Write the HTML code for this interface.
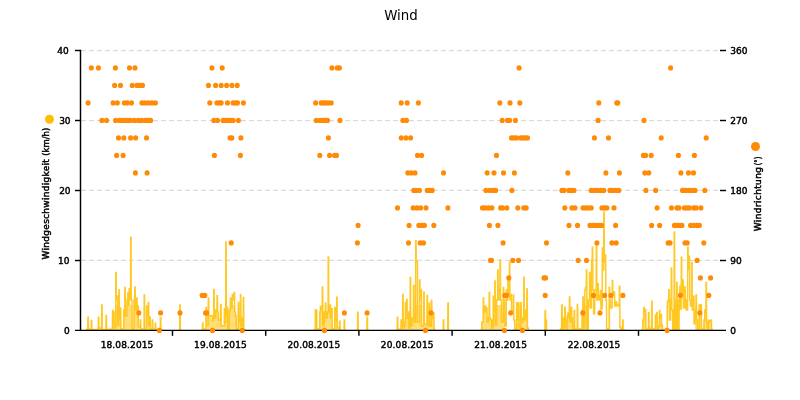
<!DOCTYPE html>
<html lang="de">
<head>
<meta charset="utf-8">
<title>Wind</title>
<style>
html,body{margin:0;padding:0;background:#fff;}
body{width:800px;height:400px;overflow:hidden;}
svg{display:block;}
text{font-family:"Liberation Sans","DejaVu Sans",sans-serif;fill:#000;}
.lbl{font-family:"DejaVu Sans","Liberation Sans",sans-serif;font-size:9px;font-weight:normal;stroke:#000;stroke-width:0.45px;}
.ttl{font-family:"DejaVu Sans","Liberation Sans",sans-serif;font-size:14px;}
</style>
</head>
<body>
<svg width="800" height="400" viewBox="0 0 800 400">
<rect x="0" y="0" width="800" height="400" fill="#ffffff"/>

<g stroke="#DBDBDB" stroke-width="1.25" stroke-dasharray="5,3" fill="none">
<path d="M81 50.5 H719"/>
<path d="M81 120.5 H719"/>
<path d="M81 190.4 H719"/>
<path d="M81 260.4 H719"/>
</g>
<g fill="none" stroke="#FFC20A" stroke-opacity="0.88" stroke-width="1.5" stroke-linejoin="miter" stroke-miterlimit="2" stroke-linecap="butt">
<clipPath id="fillclip">
<rect x="80.0" y="305" width="423.8" height="26"/>
<rect x="514.0" y="305" width="74.6" height="26"/>
<rect x="606.4" y="305" width="3.8" height="26"/>
<rect x="620.2" y="305" width="47.6" height="26"/>
<rect x="672.2" y="305" width="7.2" height="26"/>
<rect x="695.2" y="305" width="25.8" height="26"/>
</clipPath>
<g clip-path="url(#fillclip)" stroke="none" fill="#FFC20A" fill-opacity="0.55">
<polygon points="86.00,330.00 87.30,329.00 87.77,329.00 87.92,317.30 88.10,317.30 88.28,317.30 88.43,329.00 89.00,329.00 90.60,329.00 91.17,329.00 91.32,320.40 91.50,320.40 91.68,320.40 91.83,329.50 92.40,329.50 97.60,329.50 98.27,329.50 98.42,317.30 98.60,317.30 98.78,317.30 98.93,328.00 99.80,328.00 100.90,328.00 101.57,328.00 101.72,305.00 101.90,305.00 102.08,305.00 102.23,329.50 103.00,329.50 105.20,329.50 105.92,329.50 106.07,315.50 106.25,315.50 106.43,315.50 106.58,329.50 107.30,329.50 111.50,329.00 112.42,329.00 112.57,310.30 112.75,310.30 112.93,310.30 113.08,312.00 113.80,312.00 113.98,312.00 114.13,328.00 114.80,328.00 115.67,328.00 115.82,272.50 116.00,272.50 116.18,272.50 116.33,300.00 117.00,300.00 117.17,300.00 117.33,296.00 117.50,296.00 117.68,296.00 117.83,325.00 118.20,325.00 118.77,325.00 118.92,290.00 119.10,290.00 119.28,290.00 119.43,318.00 120.00,318.00 120.27,318.00 120.42,308.00 120.60,308.00 120.78,308.00 120.93,329.00 121.50,329.00 123.00,329.00 123.67,329.00 123.82,310.00 124.00,310.00 124.67,310.00 124.82,287.50 125.00,287.50 125.18,287.50 125.33,316.00 126.25,316.00 126.87,316.00 127.02,300.00 127.20,300.00 127.77,300.00 127.92,292.50 128.10,292.50 128.28,292.50 128.43,305.00 128.80,305.00 129.07,305.00 129.22,288.75 129.40,288.75 129.58,288.75 129.73,300.00 130.00,300.00 130.57,300.00 130.72,237.30 130.90,237.30 131.08,237.30 131.23,300.00 131.80,300.00 131.98,300.00 132.13,329.00 132.50,329.00 133.50,329.00 133.87,329.00 134.02,300.00 134.20,300.00 134.67,300.00 134.82,287.00 135.00,287.00 135.18,287.00 135.33,310.00 136.00,310.00 136.57,310.00 136.72,298.00 136.90,298.00 137.08,298.00 137.23,306.00 138.00,306.00 138.18,306.00 138.33,327.00 139.00,327.00 140.17,327.00 140.32,320.00 140.50,320.00 140.68,320.00 140.83,329.00 141.50,329.00 143.00,329.00 144.07,329.00 144.22,295.00 144.40,295.00 144.58,295.00 144.73,328.00 145.50,328.00 146.57,328.00 146.72,306.00 146.90,306.00 147.08,306.00 147.23,315.00 147.60,315.00 148.17,315.00 148.32,302.50 148.50,302.50 148.68,302.50 148.83,325.00 149.30,325.00 149.67,325.00 149.82,317.00 150.00,317.00 150.18,317.00 150.33,329.00 151.00,329.00 152.17,329.00 152.32,320.00 152.50,320.00 152.68,320.00 152.83,329.00 153.50,329.00 155.07,329.00 155.22,323.00 155.40,323.00 155.58,323.00 155.73,329.50 156.50,329.50 159.50,329.50 160.27,329.50 160.42,317.50 160.60,317.50 160.78,317.50 160.93,329.50 161.60,329.50 162.50,330.00"/>
<polygon points="178.80,330.00 179.67,330.00 179.82,305.00 180.00,305.00 180.18,305.00 180.33,330.00 181.20,330.00"/>
<polygon points="201.50,330.00 202.42,330.00 202.57,323.00 202.75,323.00 202.93,323.00 203.08,329.00 203.50,329.00 205.00,329.00 205.92,329.00 206.07,307.50 206.25,307.50 206.43,307.50 206.58,325.00 207.30,325.00 208.17,325.00 208.32,298.00 208.50,298.00 208.68,298.00 208.83,316.00 209.50,316.00 211.00,315.50 212.50,316.00 212.68,316.00 212.83,320.00 213.20,320.00 213.67,320.00 213.82,289.40 214.00,289.40 214.18,289.40 214.33,318.00 215.00,318.00 215.67,318.00 215.82,310.00 216.00,310.00 216.92,310.00 217.07,295.80 217.25,295.80 217.43,295.80 217.58,312.00 218.20,312.00 218.38,312.00 218.53,320.00 219.50,320.00 220.57,320.00 220.72,304.40 220.90,304.40 221.08,304.40 221.23,326.00 221.80,326.00 223.50,326.00 224.27,326.00 224.42,308.75 224.60,308.75 224.78,308.75 224.93,322.00 225.30,322.00 225.67,322.00 225.82,242.00 226.00,242.00 226.18,242.00 226.33,315.00 226.80,315.00 227.17,315.00 227.32,307.50 227.50,307.50 227.68,307.50 227.83,329.00 228.50,329.00 229.17,329.00 229.32,310.00 229.50,310.00 230.27,310.00 230.42,298.00 230.60,298.00 230.78,298.00 230.93,308.00 231.50,308.00 232.17,308.00 232.32,294.40 232.50,294.40 232.68,294.40 232.83,300.00 233.40,300.00 234.07,300.00 234.22,292.40 234.40,292.40 234.58,292.40 234.73,312.00 235.20,312.00 235.38,312.00 235.53,316.00 236.00,316.00 236.18,316.00 236.33,329.00 237.00,329.00 238.17,329.00 238.32,302.60 238.50,302.60 238.68,302.60 238.83,322.00 239.50,322.00 240.27,322.00 240.42,294.70 240.60,294.70 240.78,294.70 240.93,326.00 241.60,326.00 242.17,326.00 242.32,318.00 242.50,318.00 243.17,318.00 243.32,297.40 243.50,297.40 243.68,297.40 243.83,329.50 244.60,329.50 246.00,330.00"/>
<polygon points="314.00,330.00 315.00,329.00 315.18,329.00 315.32,310.00 315.50,310.00 316.50,310.00 316.68,310.00 316.83,329.00 317.30,329.00 319.00,329.00 319.67,329.00 319.82,312.00 320.00,312.00 320.27,312.00 320.42,306.25 320.60,306.25 320.78,306.25 320.93,309.00 321.50,309.00 322.17,309.00 322.32,286.90 322.50,286.90 322.68,286.90 322.83,325.00 323.40,325.00 324.17,325.00 324.32,312.00 324.50,312.00 325.27,312.00 325.42,303.00 325.60,303.00 325.78,303.00 325.93,318.00 326.50,318.00 327.17,318.00 327.32,312.00 327.50,312.00 328.07,312.00 328.22,256.90 328.40,256.90 328.58,256.90 328.73,312.00 329.30,312.00 329.92,312.00 330.07,305.00 330.25,305.00 330.43,305.00 330.58,318.00 331.00,318.00 331.57,318.00 331.72,308.75 331.90,308.75 332.08,308.75 332.23,329.00 332.80,329.00 334.00,329.00 334.67,329.00 334.82,307.50 335.00,307.50 335.18,307.50 335.33,320.00 335.90,320.00 336.57,320.00 336.72,297.25 336.90,297.25 337.08,297.25 337.23,328.00 337.80,328.00 338.80,328.00 339.42,328.00 339.57,321.25 339.75,321.25 339.93,321.25 340.08,329.50 340.70,329.50 341.50,330.00"/>
<polygon points="343.20,330.00 344.07,330.00 344.22,320.00 344.40,320.00 344.58,320.00 344.73,330.00 345.60,330.00"/>
<polygon points="356.70,330.00 357.57,330.00 357.72,312.25 357.90,312.25 358.08,312.25 358.23,330.00 359.10,330.00"/>
<polygon points="366.00,330.00 366.92,330.00 367.07,317.25 367.25,317.25 367.43,317.25 367.58,330.00 368.50,330.00"/>
<polygon points="396.30,330.00 397.17,330.00 397.32,317.30 397.50,317.30 397.68,317.30 397.83,329.50 398.60,329.50 400.30,329.00 400.92,329.00 401.07,320.00 401.25,320.00 401.43,320.00 401.58,326.00 402.00,326.00 402.57,326.00 402.72,294.40 402.90,294.40 403.08,294.40 403.23,328.00 403.80,328.00 404.47,328.00 404.62,322.00 404.80,322.00 405.27,322.00 405.42,302.50 405.60,302.50 405.78,302.50 405.93,310.00 406.20,310.00 406.57,310.00 406.72,299.40 406.90,299.40 407.08,299.40 407.23,318.00 407.80,318.00 408.27,318.00 408.42,312.00 408.60,312.00 408.78,312.00 408.93,328.00 409.50,328.00 410.07,328.00 410.22,277.50 410.40,277.50 410.58,277.50 410.73,326.00 411.30,326.00 411.97,326.00 412.12,318.00 412.30,318.00 413.42,318.00 413.57,285.60 413.75,285.60 413.93,285.60 414.08,322.00 414.60,322.00 415.57,322.00 415.72,240.40 415.90,240.40 416.08,240.40 416.23,261.60 417.25,261.60 417.43,261.60 417.58,322.00 418.20,322.00 419.42,322.00 419.57,280.00 419.75,280.00 419.93,280.00 420.08,300.00 420.50,300.00 420.92,300.00 421.07,289.40 421.25,289.40 421.43,289.40 421.58,326.00 422.60,326.00 423.67,326.00 423.82,291.90 424.00,291.90 424.18,291.90 424.33,324.00 425.50,324.00 426.92,324.00 427.07,295.60 427.25,295.60 427.43,295.60 427.58,326.00 428.20,326.00 429.07,326.00 429.22,303.00 429.40,303.00 429.58,303.00 429.73,326.00 430.40,326.00 431.27,326.00 431.42,300.40 431.60,300.40 431.78,300.40 431.93,318.00 432.60,318.00 433.42,318.00 433.57,313.00 433.75,313.00 433.93,313.00 434.08,329.50 434.80,329.50 435.50,330.00"/>
<polygon points="442.30,330.00 443.17,330.00 443.32,320.00 443.50,320.00 443.68,320.00 443.83,330.00 444.70,330.00"/>
<polygon points="446.90,330.00 447.77,330.00 447.92,302.90 448.10,302.90 448.28,302.90 448.43,330.00 449.30,330.00"/>
<polygon points="480.60,330.00 481.67,330.00 481.82,322.00 482.00,322.00 483.17,322.00 483.32,298.00 483.50,298.00 483.68,298.00 483.83,312.00 484.50,312.00 485.17,312.00 485.32,306.00 485.50,306.00 485.68,306.00 485.83,308.00 486.80,308.00 486.98,308.00 487.13,322.00 487.80,322.00 488.27,322.00 488.42,318.00 488.60,318.00 489.07,318.00 489.22,292.40 489.40,292.40 489.58,292.40 489.73,318.00 490.30,318.00 490.48,318.00 490.63,320.00 491.50,320.00 491.68,320.00 491.83,328.00 492.50,328.00 493.17,328.00 493.32,296.25 493.50,296.25 493.68,296.25 493.83,310.00 494.30,310.00 494.67,310.00 494.82,281.00 495.00,281.00 495.18,281.00 495.33,325.00 495.80,325.00 496.47,325.00 496.62,300.00 496.80,300.00 497.57,300.00 497.72,270.00 497.90,270.00 498.08,270.00 498.23,300.00 498.80,300.00 499.17,300.00 499.32,290.00 499.50,290.00 499.92,290.00 500.07,260.25 500.25,260.25 500.43,260.25 500.58,300.00 501.20,300.00 501.38,300.00 501.53,322.00 502.20,322.00 503.17,322.00 503.32,287.50 503.50,287.50 503.68,287.50 503.83,300.00 504.40,300.00 504.58,300.00 504.73,326.00 505.30,326.00 506.17,326.00 506.32,290.00 506.50,290.00 506.68,290.00 506.83,300.00 507.30,300.00 507.77,300.00 507.92,280.00 508.10,280.00 508.28,280.00 508.43,296.00 508.90,296.00 509.27,296.00 509.42,261.90 509.60,261.90 509.78,261.90 509.93,300.00 510.40,300.00 510.92,300.00 511.07,294.40 511.25,294.40 511.43,294.40 511.58,312.00 512.20,312.00 513.17,312.00 513.32,295.00 513.50,295.00 513.68,295.00 513.83,320.00 514.50,320.00 514.68,320.00 514.83,329.00 515.70,329.00 516.57,329.00 516.72,302.75 516.90,302.75 517.08,302.75 517.23,320.00 517.80,320.00 518.47,320.00 518.62,303.00 518.80,303.00 518.98,303.00 519.13,328.00 519.80,328.00 520.67,328.00 520.82,302.75 521.00,302.75 521.18,302.75 521.33,322.00 522.00,322.00 522.67,322.00 522.82,318.00 523.00,318.00 523.67,318.00 523.82,277.25 524.00,277.25 524.18,277.25 524.33,320.00 525.00,320.00 525.67,320.00 525.82,310.00 526.00,310.00 526.77,310.00 526.92,289.00 527.10,289.00 527.28,289.00 527.43,328.00 528.00,328.00 528.18,328.00 528.33,330.00 528.75,330.00"/>
<polygon points="543.80,330.00 544.92,330.00 545.07,310.60 545.25,310.60 545.43,310.60 545.58,320.00 546.25,320.00 546.43,320.00 546.58,330.00 547.30,330.00"/>
<polygon points="559.50,330.00 561.00,329.00 561.57,329.00 561.72,305.00 561.90,305.00 562.08,305.00 562.23,318.00 562.80,318.00 562.98,318.00 563.13,329.00 563.60,329.00 564.07,329.00 564.22,318.00 564.40,318.00 564.67,318.00 564.82,307.25 565.00,307.25 565.18,307.25 565.33,320.00 565.80,320.00 565.98,320.00 566.13,329.00 566.60,329.00 567.07,329.00 567.22,316.00 567.40,316.00 567.77,316.00 567.92,313.00 568.10,313.00 568.28,313.00 568.43,318.00 568.90,318.00 569.27,318.00 569.42,297.00 569.60,297.00 569.78,297.00 569.93,322.00 570.50,322.00 571.17,322.00 571.32,307.50 571.50,307.50 571.68,307.50 571.83,318.00 572.30,318.00 572.48,318.00 572.63,329.00 573.00,329.00 574.07,329.00 574.22,310.60 574.40,310.60 574.58,310.60 574.73,329.00 575.30,329.00 576.60,329.00 577.17,329.00 577.32,304.40 577.50,304.40 577.68,304.40 577.83,329.00 578.40,329.00 581.50,329.00 581.97,329.00 582.12,310.00 582.30,310.00 582.77,310.00 582.92,297.00 583.10,297.00 583.28,297.00 583.43,328.00 584.00,328.00 584.67,328.00 584.82,290.00 585.00,290.00 585.27,290.00 585.42,287.50 585.60,287.50 586.27,287.50 586.42,270.00 586.60,270.00 586.78,270.00 586.93,329.00 587.50,329.00 588.17,329.00 588.32,300.00 588.50,300.00 589.42,300.00 589.57,272.50 589.75,272.50 589.93,272.50 590.08,308.00 590.80,308.00 591.37,308.00 591.52,260.00 591.70,260.00 592.17,260.00 592.32,247.25 592.50,247.25 592.68,247.25 592.83,290.00 593.30,290.00 593.48,290.00 593.63,313.75 593.90,313.75 594.67,313.75 594.82,290.00 595.00,290.00 596.17,290.00 596.32,245.60 596.50,245.60 596.68,245.60 596.83,300.00 597.40,300.00 597.77,300.00 597.92,283.75 598.10,283.75 598.28,283.75 598.43,296.00 599.00,296.00 599.18,296.00 599.33,300.00 599.80,300.00 600.27,300.00 600.42,290.60 600.60,290.60 600.78,290.60 600.93,309.00 601.30,309.00 602.17,309.00 602.32,248.00 602.50,248.00 602.68,248.00 602.83,270.00 603.30,270.00 603.67,270.00 603.82,212.00 604.00,212.00 604.18,212.00 604.33,262.00 604.80,262.00 605.17,262.00 605.32,255.00 605.50,255.00 605.68,255.00 605.83,300.00 606.30,300.00 606.48,300.00 606.63,329.00 607.00,329.00 608.50,329.00 609.07,329.00 609.22,287.25 609.40,287.25 609.58,287.25 609.73,300.00 610.30,300.00 610.48,300.00 610.63,308.00 611.30,308.00 612.17,308.00 612.32,280.40 612.50,280.40 612.68,280.40 612.83,295.00 613.40,295.00 614.07,295.00 614.22,292.00 614.40,292.00 614.58,292.00 614.73,306.00 615.30,306.00 616.07,306.00 616.22,302.00 616.40,302.00 616.58,302.00 616.73,304.40 617.50,304.40 617.68,304.40 617.83,306.00 618.50,306.00 619.27,306.00 619.42,286.25 619.60,286.25 619.78,286.25 619.93,327.00 620.60,327.00 620.78,327.00 620.93,329.00 621.80,329.00 622.57,329.00 622.72,320.00 622.90,320.00 623.08,320.00 623.23,329.50 623.80,329.50 625.00,330.00"/>
<polygon points="641.80,330.00 642.67,330.00 642.82,320.00 643.00,320.00 643.67,320.00 643.82,307.50 644.00,307.50 644.18,307.50 644.33,311.00 644.80,311.00 645.27,311.00 645.42,309.40 645.60,309.40 645.78,309.40 645.93,329.00 646.40,329.00 647.80,329.00 648.42,329.00 648.57,312.50 648.75,312.50 648.93,312.50 649.08,329.00 649.60,329.00 650.80,328.00 651.57,328.00 651.72,301.25 651.90,301.25 652.08,301.25 652.23,329.00 652.90,329.00 654.60,329.00 655.27,329.00 655.42,315.00 655.60,315.00 655.78,315.00 655.93,318.00 656.20,318.00 656.57,318.00 656.72,312.50 656.90,312.50 657.08,312.50 657.23,329.00 657.80,329.00 658.47,329.00 658.62,326.00 658.80,326.00 659.27,326.00 659.42,310.60 659.60,310.60 659.78,310.60 659.93,318.00 660.40,318.00 660.92,318.00 661.07,314.40 661.25,314.40 661.43,314.40 661.58,325.00 662.20,325.00 662.38,325.00 662.53,329.50 663.00,329.50 666.00,329.50 667.17,329.50 667.32,302.00 667.50,302.00 667.97,302.00 668.12,300.00 668.30,300.00 668.67,300.00 668.82,289.75 669.00,289.75 669.18,289.75 669.33,320.00 670.00,320.00 670.47,320.00 670.62,300.00 670.80,300.00 671.17,300.00 671.32,268.00 671.50,268.00 671.68,268.00 671.83,310.00 672.40,310.00 672.58,310.00 672.73,329.00 673.30,329.00 674.07,329.00 674.22,232.00 674.40,232.00 674.58,232.00 674.73,300.00 675.30,300.00 675.48,300.00 675.63,329.00 676.00,329.00 676.57,329.00 676.72,282.50 676.90,282.50 677.08,282.50 677.23,300.00 677.80,300.00 677.98,300.00 678.13,329.00 678.60,329.00 678.97,329.00 679.12,300.00 679.30,300.00 679.67,300.00 679.82,286.25 680.00,286.25 680.18,286.25 680.33,309.00 680.80,309.00 681.17,309.00 681.32,257.25 681.50,257.25 681.68,257.25 681.83,295.00 682.30,295.00 682.77,295.00 682.92,280.00 683.10,280.00 683.28,280.00 683.43,308.00 683.90,308.00 684.67,308.00 684.82,287.00 685.00,287.00 685.18,287.00 685.33,300.00 685.90,300.00 686.08,300.00 686.23,310.00 686.90,310.00 687.57,310.00 687.72,247.25 687.90,247.25 688.08,247.25 688.23,270.00 688.60,270.00 689.07,270.00 689.22,256.25 689.40,256.25 689.58,256.25 689.73,300.00 690.20,300.00 690.38,300.00 690.53,306.00 691.00,306.00 691.57,306.00 691.72,262.50 691.90,262.50 692.08,262.50 692.23,310.00 692.60,310.00 693.42,310.00 693.57,296.25 693.75,296.25 693.93,296.25 694.08,323.75 694.50,323.75 695.07,323.75 695.22,310.00 695.40,310.00 695.92,310.00 696.07,295.00 696.25,295.00 696.43,295.00 696.58,320.00 697.20,320.00 697.38,320.00 697.53,329.00 698.00,329.00 699.07,329.00 699.22,305.00 699.40,305.00 699.58,305.00 699.73,312.00 700.30,312.00 700.92,312.00 701.07,304.60 701.25,304.60 701.43,304.60 701.58,329.00 702.00,329.00 703.50,329.00 703.87,329.00 704.02,320.00 704.20,320.00 704.67,320.00 704.82,310.00 705.00,310.00 705.18,310.00 705.33,312.00 705.60,312.00 705.92,312.00 706.07,282.50 706.25,282.50 706.43,282.50 706.58,322.00 707.00,322.00 707.18,322.00 707.33,329.00 707.80,329.00 708.47,329.00 708.62,320.00 708.80,320.00 709.80,321.00 711.25,320.00 711.43,320.00 711.58,329.50 712.30,329.50 713.00,330.00"/>
</g>
<polyline points="86.00,330.00 87.30,329.00 87.77,329.00 87.92,317.30 88.10,317.30 88.28,317.30 88.43,329.00 89.00,329.00 90.60,329.00 91.17,329.00 91.32,320.40 91.50,320.40 91.68,320.40 91.83,329.50 92.40,329.50 97.60,329.50 98.27,329.50 98.42,317.30 98.60,317.30 98.78,317.30 98.93,328.00 99.80,328.00 100.90,328.00 101.57,328.00 101.72,305.00 101.90,305.00 102.08,305.00 102.23,329.50 103.00,329.50 105.20,329.50 105.92,329.50 106.07,315.50 106.25,315.50 106.43,315.50 106.58,329.50 107.30,329.50 111.50,329.00 112.42,329.00 112.57,310.30 112.75,310.30 112.93,310.30 113.08,312.00 113.80,312.00 113.98,312.00 114.13,328.00 114.80,328.00 115.67,328.00 115.82,272.50 116.00,272.50 116.18,272.50 116.33,300.00 117.00,300.00 117.17,300.00 117.33,296.00 117.50,296.00 117.68,296.00 117.83,325.00 118.20,325.00 118.77,325.00 118.92,290.00 119.10,290.00 119.28,290.00 119.43,318.00 120.00,318.00 120.27,318.00 120.42,308.00 120.60,308.00 120.78,308.00 120.93,329.00 121.50,329.00 123.00,329.00 123.67,329.00 123.82,310.00 124.00,310.00 124.67,310.00 124.82,287.50 125.00,287.50 125.18,287.50 125.33,316.00 126.25,316.00 126.87,316.00 127.02,300.00 127.20,300.00 127.77,300.00 127.92,292.50 128.10,292.50 128.28,292.50 128.43,305.00 128.80,305.00 129.07,305.00 129.22,288.75 129.40,288.75 129.58,288.75 129.73,300.00 130.00,300.00 130.57,300.00 130.72,237.30 130.90,237.30 131.08,237.30 131.23,300.00 131.80,300.00 131.98,300.00 132.13,329.00 132.50,329.00 133.50,329.00 133.87,329.00 134.02,300.00 134.20,300.00 134.67,300.00 134.82,287.00 135.00,287.00 135.18,287.00 135.33,310.00 136.00,310.00 136.57,310.00 136.72,298.00 136.90,298.00 137.08,298.00 137.23,306.00 138.00,306.00 138.18,306.00 138.33,327.00 139.00,327.00 140.17,327.00 140.32,320.00 140.50,320.00 140.68,320.00 140.83,329.00 141.50,329.00 143.00,329.00 144.07,329.00 144.22,295.00 144.40,295.00 144.58,295.00 144.73,328.00 145.50,328.00 146.57,328.00 146.72,306.00 146.90,306.00 147.08,306.00 147.23,315.00 147.60,315.00 148.17,315.00 148.32,302.50 148.50,302.50 148.68,302.50 148.83,325.00 149.30,325.00 149.67,325.00 149.82,317.00 150.00,317.00 150.18,317.00 150.33,329.00 151.00,329.00 152.17,329.00 152.32,320.00 152.50,320.00 152.68,320.00 152.83,329.00 153.50,329.00 155.07,329.00 155.22,323.00 155.40,323.00 155.58,323.00 155.73,329.50 156.50,329.50 159.50,329.50 160.27,329.50 160.42,317.50 160.60,317.50 160.78,317.50 160.93,329.50 161.60,329.50 162.50,330.00"/>
<polyline points="178.80,330.00 179.67,330.00 179.82,305.00 180.00,305.00 180.18,305.00 180.33,330.00 181.20,330.00"/>
<polyline points="201.50,330.00 202.42,330.00 202.57,323.00 202.75,323.00 202.93,323.00 203.08,329.00 203.50,329.00 205.00,329.00 205.92,329.00 206.07,307.50 206.25,307.50 206.43,307.50 206.58,325.00 207.30,325.00 208.17,325.00 208.32,298.00 208.50,298.00 208.68,298.00 208.83,316.00 209.50,316.00 211.00,315.50 212.50,316.00 212.68,316.00 212.83,320.00 213.20,320.00 213.67,320.00 213.82,289.40 214.00,289.40 214.18,289.40 214.33,318.00 215.00,318.00 215.67,318.00 215.82,310.00 216.00,310.00 216.92,310.00 217.07,295.80 217.25,295.80 217.43,295.80 217.58,312.00 218.20,312.00 218.38,312.00 218.53,320.00 219.50,320.00 220.57,320.00 220.72,304.40 220.90,304.40 221.08,304.40 221.23,326.00 221.80,326.00 223.50,326.00 224.27,326.00 224.42,308.75 224.60,308.75 224.78,308.75 224.93,322.00 225.30,322.00 225.67,322.00 225.82,242.00 226.00,242.00 226.18,242.00 226.33,315.00 226.80,315.00 227.17,315.00 227.32,307.50 227.50,307.50 227.68,307.50 227.83,329.00 228.50,329.00 229.17,329.00 229.32,310.00 229.50,310.00 230.27,310.00 230.42,298.00 230.60,298.00 230.78,298.00 230.93,308.00 231.50,308.00 232.17,308.00 232.32,294.40 232.50,294.40 232.68,294.40 232.83,300.00 233.40,300.00 234.07,300.00 234.22,292.40 234.40,292.40 234.58,292.40 234.73,312.00 235.20,312.00 235.38,312.00 235.53,316.00 236.00,316.00 236.18,316.00 236.33,329.00 237.00,329.00 238.17,329.00 238.32,302.60 238.50,302.60 238.68,302.60 238.83,322.00 239.50,322.00 240.27,322.00 240.42,294.70 240.60,294.70 240.78,294.70 240.93,326.00 241.60,326.00 242.17,326.00 242.32,318.00 242.50,318.00 243.17,318.00 243.32,297.40 243.50,297.40 243.68,297.40 243.83,329.50 244.60,329.50 246.00,330.00"/>
<polyline points="314.00,330.00 315.00,329.00 315.18,329.00 315.32,310.00 315.50,310.00 316.50,310.00 316.68,310.00 316.83,329.00 317.30,329.00 319.00,329.00 319.67,329.00 319.82,312.00 320.00,312.00 320.27,312.00 320.42,306.25 320.60,306.25 320.78,306.25 320.93,309.00 321.50,309.00 322.17,309.00 322.32,286.90 322.50,286.90 322.68,286.90 322.83,325.00 323.40,325.00 324.17,325.00 324.32,312.00 324.50,312.00 325.27,312.00 325.42,303.00 325.60,303.00 325.78,303.00 325.93,318.00 326.50,318.00 327.17,318.00 327.32,312.00 327.50,312.00 328.07,312.00 328.22,256.90 328.40,256.90 328.58,256.90 328.73,312.00 329.30,312.00 329.92,312.00 330.07,305.00 330.25,305.00 330.43,305.00 330.58,318.00 331.00,318.00 331.57,318.00 331.72,308.75 331.90,308.75 332.08,308.75 332.23,329.00 332.80,329.00 334.00,329.00 334.67,329.00 334.82,307.50 335.00,307.50 335.18,307.50 335.33,320.00 335.90,320.00 336.57,320.00 336.72,297.25 336.90,297.25 337.08,297.25 337.23,328.00 337.80,328.00 338.80,328.00 339.42,328.00 339.57,321.25 339.75,321.25 339.93,321.25 340.08,329.50 340.70,329.50 341.50,330.00"/>
<polyline points="343.20,330.00 344.07,330.00 344.22,320.00 344.40,320.00 344.58,320.00 344.73,330.00 345.60,330.00"/>
<polyline points="356.70,330.00 357.57,330.00 357.72,312.25 357.90,312.25 358.08,312.25 358.23,330.00 359.10,330.00"/>
<polyline points="366.00,330.00 366.92,330.00 367.07,317.25 367.25,317.25 367.43,317.25 367.58,330.00 368.50,330.00"/>
<polyline points="396.30,330.00 397.17,330.00 397.32,317.30 397.50,317.30 397.68,317.30 397.83,329.50 398.60,329.50 400.30,329.00 400.92,329.00 401.07,320.00 401.25,320.00 401.43,320.00 401.58,326.00 402.00,326.00 402.57,326.00 402.72,294.40 402.90,294.40 403.08,294.40 403.23,328.00 403.80,328.00 404.47,328.00 404.62,322.00 404.80,322.00 405.27,322.00 405.42,302.50 405.60,302.50 405.78,302.50 405.93,310.00 406.20,310.00 406.57,310.00 406.72,299.40 406.90,299.40 407.08,299.40 407.23,318.00 407.80,318.00 408.27,318.00 408.42,312.00 408.60,312.00 408.78,312.00 408.93,328.00 409.50,328.00 410.07,328.00 410.22,277.50 410.40,277.50 410.58,277.50 410.73,326.00 411.30,326.00 411.97,326.00 412.12,318.00 412.30,318.00 413.42,318.00 413.57,285.60 413.75,285.60 413.93,285.60 414.08,322.00 414.60,322.00 415.57,322.00 415.72,240.40 415.90,240.40 416.08,240.40 416.23,261.60 417.25,261.60 417.43,261.60 417.58,322.00 418.20,322.00 419.42,322.00 419.57,280.00 419.75,280.00 419.93,280.00 420.08,300.00 420.50,300.00 420.92,300.00 421.07,289.40 421.25,289.40 421.43,289.40 421.58,326.00 422.60,326.00 423.67,326.00 423.82,291.90 424.00,291.90 424.18,291.90 424.33,324.00 425.50,324.00 426.92,324.00 427.07,295.60 427.25,295.60 427.43,295.60 427.58,326.00 428.20,326.00 429.07,326.00 429.22,303.00 429.40,303.00 429.58,303.00 429.73,326.00 430.40,326.00 431.27,326.00 431.42,300.40 431.60,300.40 431.78,300.40 431.93,318.00 432.60,318.00 433.42,318.00 433.57,313.00 433.75,313.00 433.93,313.00 434.08,329.50 434.80,329.50 435.50,330.00"/>
<polyline points="442.30,330.00 443.17,330.00 443.32,320.00 443.50,320.00 443.68,320.00 443.83,330.00 444.70,330.00"/>
<polyline points="446.90,330.00 447.77,330.00 447.92,302.90 448.10,302.90 448.28,302.90 448.43,330.00 449.30,330.00"/>
<polyline points="480.60,330.00 481.67,330.00 481.82,322.00 482.00,322.00 483.17,322.00 483.32,298.00 483.50,298.00 483.68,298.00 483.83,312.00 484.50,312.00 485.17,312.00 485.32,306.00 485.50,306.00 485.68,306.00 485.83,308.00 486.80,308.00 486.98,308.00 487.13,322.00 487.80,322.00 488.27,322.00 488.42,318.00 488.60,318.00 489.07,318.00 489.22,292.40 489.40,292.40 489.58,292.40 489.73,318.00 490.30,318.00 490.48,318.00 490.63,320.00 491.50,320.00 491.68,320.00 491.83,328.00 492.50,328.00 493.17,328.00 493.32,296.25 493.50,296.25 493.68,296.25 493.83,310.00 494.30,310.00 494.67,310.00 494.82,281.00 495.00,281.00 495.18,281.00 495.33,325.00 495.80,325.00 496.47,325.00 496.62,300.00 496.80,300.00 497.57,300.00 497.72,270.00 497.90,270.00 498.08,270.00 498.23,300.00 498.80,300.00 499.17,300.00 499.32,290.00 499.50,290.00 499.92,290.00 500.07,260.25 500.25,260.25 500.43,260.25 500.58,300.00 501.20,300.00 501.38,300.00 501.53,322.00 502.20,322.00 503.17,322.00 503.32,287.50 503.50,287.50 503.68,287.50 503.83,300.00 504.40,300.00 504.58,300.00 504.73,326.00 505.30,326.00 506.17,326.00 506.32,290.00 506.50,290.00 506.68,290.00 506.83,300.00 507.30,300.00 507.77,300.00 507.92,280.00 508.10,280.00 508.28,280.00 508.43,296.00 508.90,296.00 509.27,296.00 509.42,261.90 509.60,261.90 509.78,261.90 509.93,300.00 510.40,300.00 510.92,300.00 511.07,294.40 511.25,294.40 511.43,294.40 511.58,312.00 512.20,312.00 513.17,312.00 513.32,295.00 513.50,295.00 513.68,295.00 513.83,320.00 514.50,320.00 514.68,320.00 514.83,329.00 515.70,329.00 516.57,329.00 516.72,302.75 516.90,302.75 517.08,302.75 517.23,320.00 517.80,320.00 518.47,320.00 518.62,303.00 518.80,303.00 518.98,303.00 519.13,328.00 519.80,328.00 520.67,328.00 520.82,302.75 521.00,302.75 521.18,302.75 521.33,322.00 522.00,322.00 522.67,322.00 522.82,318.00 523.00,318.00 523.67,318.00 523.82,277.25 524.00,277.25 524.18,277.25 524.33,320.00 525.00,320.00 525.67,320.00 525.82,310.00 526.00,310.00 526.77,310.00 526.92,289.00 527.10,289.00 527.28,289.00 527.43,328.00 528.00,328.00 528.18,328.00 528.33,330.00 528.75,330.00"/>
<polyline points="543.80,330.00 544.92,330.00 545.07,310.60 545.25,310.60 545.43,310.60 545.58,320.00 546.25,320.00 546.43,320.00 546.58,330.00 547.30,330.00"/>
<polyline points="559.50,330.00 561.00,329.00 561.57,329.00 561.72,305.00 561.90,305.00 562.08,305.00 562.23,318.00 562.80,318.00 562.98,318.00 563.13,329.00 563.60,329.00 564.07,329.00 564.22,318.00 564.40,318.00 564.67,318.00 564.82,307.25 565.00,307.25 565.18,307.25 565.33,320.00 565.80,320.00 565.98,320.00 566.13,329.00 566.60,329.00 567.07,329.00 567.22,316.00 567.40,316.00 567.77,316.00 567.92,313.00 568.10,313.00 568.28,313.00 568.43,318.00 568.90,318.00 569.27,318.00 569.42,297.00 569.60,297.00 569.78,297.00 569.93,322.00 570.50,322.00 571.17,322.00 571.32,307.50 571.50,307.50 571.68,307.50 571.83,318.00 572.30,318.00 572.48,318.00 572.63,329.00 573.00,329.00 574.07,329.00 574.22,310.60 574.40,310.60 574.58,310.60 574.73,329.00 575.30,329.00 576.60,329.00 577.17,329.00 577.32,304.40 577.50,304.40 577.68,304.40 577.83,329.00 578.40,329.00 581.50,329.00 581.97,329.00 582.12,310.00 582.30,310.00 582.77,310.00 582.92,297.00 583.10,297.00 583.28,297.00 583.43,328.00 584.00,328.00 584.67,328.00 584.82,290.00 585.00,290.00 585.27,290.00 585.42,287.50 585.60,287.50 586.27,287.50 586.42,270.00 586.60,270.00 586.78,270.00 586.93,329.00 587.50,329.00 588.17,329.00 588.32,300.00 588.50,300.00 589.42,300.00 589.57,272.50 589.75,272.50 589.93,272.50 590.08,308.00 590.80,308.00 591.37,308.00 591.52,260.00 591.70,260.00 592.17,260.00 592.32,247.25 592.50,247.25 592.68,247.25 592.83,290.00 593.30,290.00 593.48,290.00 593.63,313.75 593.90,313.75 594.67,313.75 594.82,290.00 595.00,290.00 596.17,290.00 596.32,245.60 596.50,245.60 596.68,245.60 596.83,300.00 597.40,300.00 597.77,300.00 597.92,283.75 598.10,283.75 598.28,283.75 598.43,296.00 599.00,296.00 599.18,296.00 599.33,300.00 599.80,300.00 600.27,300.00 600.42,290.60 600.60,290.60 600.78,290.60 600.93,309.00 601.30,309.00 602.17,309.00 602.32,248.00 602.50,248.00 602.68,248.00 602.83,270.00 603.30,270.00 603.67,270.00 603.82,212.00 604.00,212.00 604.18,212.00 604.33,262.00 604.80,262.00 605.17,262.00 605.32,255.00 605.50,255.00 605.68,255.00 605.83,300.00 606.30,300.00 606.48,300.00 606.63,329.00 607.00,329.00 608.50,329.00 609.07,329.00 609.22,287.25 609.40,287.25 609.58,287.25 609.73,300.00 610.30,300.00 610.48,300.00 610.63,308.00 611.30,308.00 612.17,308.00 612.32,280.40 612.50,280.40 612.68,280.40 612.83,295.00 613.40,295.00 614.07,295.00 614.22,292.00 614.40,292.00 614.58,292.00 614.73,306.00 615.30,306.00 616.07,306.00 616.22,302.00 616.40,302.00 616.58,302.00 616.73,304.40 617.50,304.40 617.68,304.40 617.83,306.00 618.50,306.00 619.27,306.00 619.42,286.25 619.60,286.25 619.78,286.25 619.93,327.00 620.60,327.00 620.78,327.00 620.93,329.00 621.80,329.00 622.57,329.00 622.72,320.00 622.90,320.00 623.08,320.00 623.23,329.50 623.80,329.50 625.00,330.00"/>
<polyline points="641.80,330.00 642.67,330.00 642.82,320.00 643.00,320.00 643.67,320.00 643.82,307.50 644.00,307.50 644.18,307.50 644.33,311.00 644.80,311.00 645.27,311.00 645.42,309.40 645.60,309.40 645.78,309.40 645.93,329.00 646.40,329.00 647.80,329.00 648.42,329.00 648.57,312.50 648.75,312.50 648.93,312.50 649.08,329.00 649.60,329.00 650.80,328.00 651.57,328.00 651.72,301.25 651.90,301.25 652.08,301.25 652.23,329.00 652.90,329.00 654.60,329.00 655.27,329.00 655.42,315.00 655.60,315.00 655.78,315.00 655.93,318.00 656.20,318.00 656.57,318.00 656.72,312.50 656.90,312.50 657.08,312.50 657.23,329.00 657.80,329.00 658.47,329.00 658.62,326.00 658.80,326.00 659.27,326.00 659.42,310.60 659.60,310.60 659.78,310.60 659.93,318.00 660.40,318.00 660.92,318.00 661.07,314.40 661.25,314.40 661.43,314.40 661.58,325.00 662.20,325.00 662.38,325.00 662.53,329.50 663.00,329.50 666.00,329.50 667.17,329.50 667.32,302.00 667.50,302.00 667.97,302.00 668.12,300.00 668.30,300.00 668.67,300.00 668.82,289.75 669.00,289.75 669.18,289.75 669.33,320.00 670.00,320.00 670.47,320.00 670.62,300.00 670.80,300.00 671.17,300.00 671.32,268.00 671.50,268.00 671.68,268.00 671.83,310.00 672.40,310.00 672.58,310.00 672.73,329.00 673.30,329.00 674.07,329.00 674.22,232.00 674.40,232.00 674.58,232.00 674.73,300.00 675.30,300.00 675.48,300.00 675.63,329.00 676.00,329.00 676.57,329.00 676.72,282.50 676.90,282.50 677.08,282.50 677.23,300.00 677.80,300.00 677.98,300.00 678.13,329.00 678.60,329.00 678.97,329.00 679.12,300.00 679.30,300.00 679.67,300.00 679.82,286.25 680.00,286.25 680.18,286.25 680.33,309.00 680.80,309.00 681.17,309.00 681.32,257.25 681.50,257.25 681.68,257.25 681.83,295.00 682.30,295.00 682.77,295.00 682.92,280.00 683.10,280.00 683.28,280.00 683.43,308.00 683.90,308.00 684.67,308.00 684.82,287.00 685.00,287.00 685.18,287.00 685.33,300.00 685.90,300.00 686.08,300.00 686.23,310.00 686.90,310.00 687.57,310.00 687.72,247.25 687.90,247.25 688.08,247.25 688.23,270.00 688.60,270.00 689.07,270.00 689.22,256.25 689.40,256.25 689.58,256.25 689.73,300.00 690.20,300.00 690.38,300.00 690.53,306.00 691.00,306.00 691.57,306.00 691.72,262.50 691.90,262.50 692.08,262.50 692.23,310.00 692.60,310.00 693.42,310.00 693.57,296.25 693.75,296.25 693.93,296.25 694.08,323.75 694.50,323.75 695.07,323.75 695.22,310.00 695.40,310.00 695.92,310.00 696.07,295.00 696.25,295.00 696.43,295.00 696.58,320.00 697.20,320.00 697.38,320.00 697.53,329.00 698.00,329.00 699.07,329.00 699.22,305.00 699.40,305.00 699.58,305.00 699.73,312.00 700.30,312.00 700.92,312.00 701.07,304.60 701.25,304.60 701.43,304.60 701.58,329.00 702.00,329.00 703.50,329.00 703.87,329.00 704.02,320.00 704.20,320.00 704.67,320.00 704.82,310.00 705.00,310.00 705.18,310.00 705.33,312.00 705.60,312.00 705.92,312.00 706.07,282.50 706.25,282.50 706.43,282.50 706.58,322.00 707.00,322.00 707.18,322.00 707.33,329.00 707.80,329.00 708.47,329.00 708.62,320.00 708.80,320.00 709.80,321.00 711.25,320.00 711.43,320.00 711.58,329.50 712.30,329.50 713.00,330.00"/>
</g>
<g stroke="#000" stroke-width="1.45" fill="none">
<path d="M80.5 49.8 V331"/>
<path d="M75 330.3 H726" stroke-width="1.2"/>
<path d="M75 50.5 H80.5"/>
<path d="M720 50.5 H726"/>
<path d="M75 120.5 H80.5"/>
<path d="M720 120.5 H726"/>
<path d="M75 190.5 H80.5"/>
<path d="M720 190.5 H726"/>
<path d="M75 260.5 H80.5"/>
<path d="M720 260.5 H726"/>
<path d="M172.5 330 V335.8"/>
<path d="M265.7 330 V335.8"/>
<path d="M358.9 330 V335.8"/>
<path d="M452.1 330 V335.8"/>
<path d="M545.3 330 V335.8"/>
<path d="M638.5 330 V335.8"/>
</g>
<g fill="#FF8A06">
<circle cx="91.3" cy="67.9" r="2.55"/>
<circle cx="98.4" cy="67.9" r="2.55"/>
<circle cx="115.4" cy="67.9" r="2.55"/>
<circle cx="129.5" cy="67.9" r="2.55"/>
<circle cx="135.0" cy="67.9" r="2.55"/>
<circle cx="211.9" cy="67.9" r="2.55"/>
<circle cx="222.2" cy="67.9" r="2.55"/>
<circle cx="331.9" cy="67.9" r="2.55"/>
<circle cx="337.2" cy="67.9" r="2.55"/>
<circle cx="339.4" cy="67.9" r="2.55"/>
<circle cx="519.1" cy="67.9" r="2.55"/>
<circle cx="670.6" cy="67.9" r="2.55"/>
<circle cx="114.6" cy="85.4" r="2.55"/>
<circle cx="120.5" cy="85.4" r="2.55"/>
<circle cx="132.3" cy="85.4" r="2.55"/>
<circle cx="137.0" cy="85.4" r="2.55"/>
<circle cx="139.5" cy="85.4" r="2.55"/>
<circle cx="142.5" cy="85.4" r="2.55"/>
<circle cx="208.5" cy="85.4" r="2.55"/>
<circle cx="215.6" cy="85.4" r="2.55"/>
<circle cx="221.2" cy="85.4" r="2.55"/>
<circle cx="226.6" cy="85.4" r="2.55"/>
<circle cx="231.9" cy="85.4" r="2.55"/>
<circle cx="237.2" cy="85.4" r="2.55"/>
<circle cx="88.1" cy="102.9" r="2.55"/>
<circle cx="113.1" cy="102.9" r="2.55"/>
<circle cx="117.3" cy="102.9" r="2.55"/>
<circle cx="124.4" cy="102.9" r="2.55"/>
<circle cx="127.3" cy="102.9" r="2.55"/>
<circle cx="131.5" cy="102.9" r="2.55"/>
<circle cx="141.9" cy="102.9" r="2.55"/>
<circle cx="145.0" cy="102.9" r="2.55"/>
<circle cx="148.5" cy="102.9" r="2.55"/>
<circle cx="151.9" cy="102.9" r="2.55"/>
<circle cx="155.4" cy="102.9" r="2.55"/>
<circle cx="209.8" cy="102.9" r="2.55"/>
<circle cx="216.9" cy="102.9" r="2.55"/>
<circle cx="219.4" cy="102.9" r="2.55"/>
<circle cx="221.2" cy="102.9" r="2.55"/>
<circle cx="227.5" cy="102.9" r="2.55"/>
<circle cx="233.1" cy="102.9" r="2.55"/>
<circle cx="235.6" cy="102.9" r="2.55"/>
<circle cx="237.5" cy="102.9" r="2.55"/>
<circle cx="243.4" cy="102.9" r="2.55"/>
<circle cx="315.6" cy="102.9" r="2.55"/>
<circle cx="321.2" cy="102.9" r="2.55"/>
<circle cx="323.5" cy="102.9" r="2.55"/>
<circle cx="325.6" cy="102.9" r="2.55"/>
<circle cx="328.1" cy="102.9" r="2.55"/>
<circle cx="331.2" cy="102.9" r="2.55"/>
<circle cx="401.2" cy="102.9" r="2.55"/>
<circle cx="407.2" cy="102.9" r="2.55"/>
<circle cx="418.4" cy="102.9" r="2.55"/>
<circle cx="499.8" cy="102.9" r="2.55"/>
<circle cx="510.0" cy="102.9" r="2.55"/>
<circle cx="519.8" cy="102.9" r="2.55"/>
<circle cx="598.8" cy="102.9" r="2.55"/>
<circle cx="616.8" cy="102.9" r="2.55"/>
<circle cx="617.8" cy="102.9" r="2.55"/>
<circle cx="101.9" cy="120.4" r="2.55"/>
<circle cx="106.5" cy="120.4" r="2.55"/>
<circle cx="115.6" cy="120.4" r="2.55"/>
<circle cx="119.4" cy="120.4" r="2.55"/>
<circle cx="122.5" cy="120.4" r="2.55"/>
<circle cx="125.6" cy="120.4" r="2.55"/>
<circle cx="128.1" cy="120.4" r="2.55"/>
<circle cx="130.6" cy="120.4" r="2.55"/>
<circle cx="134.4" cy="120.4" r="2.55"/>
<circle cx="138.1" cy="120.4" r="2.55"/>
<circle cx="141.2" cy="120.4" r="2.55"/>
<circle cx="145.0" cy="120.4" r="2.55"/>
<circle cx="148.1" cy="120.4" r="2.55"/>
<circle cx="150.6" cy="120.4" r="2.55"/>
<circle cx="213.8" cy="120.4" r="2.55"/>
<circle cx="217.5" cy="120.4" r="2.55"/>
<circle cx="223.1" cy="120.4" r="2.55"/>
<circle cx="225.6" cy="120.4" r="2.55"/>
<circle cx="228.1" cy="120.4" r="2.55"/>
<circle cx="230.6" cy="120.4" r="2.55"/>
<circle cx="233.1" cy="120.4" r="2.55"/>
<circle cx="238.4" cy="120.4" r="2.55"/>
<circle cx="316.2" cy="120.4" r="2.55"/>
<circle cx="320.0" cy="120.4" r="2.55"/>
<circle cx="322.5" cy="120.4" r="2.55"/>
<circle cx="325.0" cy="120.4" r="2.55"/>
<circle cx="327.5" cy="120.4" r="2.55"/>
<circle cx="340.0" cy="120.4" r="2.55"/>
<circle cx="402.9" cy="120.4" r="2.55"/>
<circle cx="406.5" cy="120.4" r="2.55"/>
<circle cx="502.2" cy="120.4" r="2.55"/>
<circle cx="507.5" cy="120.4" r="2.55"/>
<circle cx="509.6" cy="120.4" r="2.55"/>
<circle cx="515.4" cy="120.4" r="2.55"/>
<circle cx="598.1" cy="120.4" r="2.55"/>
<circle cx="644.0" cy="120.4" r="2.55"/>
<circle cx="118.5" cy="137.9" r="2.55"/>
<circle cx="123.8" cy="137.9" r="2.55"/>
<circle cx="130.6" cy="137.9" r="2.55"/>
<circle cx="135.6" cy="137.9" r="2.55"/>
<circle cx="146.5" cy="137.9" r="2.55"/>
<circle cx="230.0" cy="137.9" r="2.55"/>
<circle cx="231.9" cy="137.9" r="2.55"/>
<circle cx="240.9" cy="137.9" r="2.55"/>
<circle cx="328.4" cy="137.9" r="2.55"/>
<circle cx="401.2" cy="137.9" r="2.55"/>
<circle cx="405.9" cy="137.9" r="2.55"/>
<circle cx="410.6" cy="137.9" r="2.55"/>
<circle cx="511.5" cy="137.9" r="2.55"/>
<circle cx="514.0" cy="137.9" r="2.55"/>
<circle cx="516.5" cy="137.9" r="2.55"/>
<circle cx="520.6" cy="137.9" r="2.55"/>
<circle cx="523.1" cy="137.9" r="2.55"/>
<circle cx="525.2" cy="137.9" r="2.55"/>
<circle cx="527.5" cy="137.9" r="2.55"/>
<circle cx="594.4" cy="137.9" r="2.55"/>
<circle cx="608.5" cy="137.9" r="2.55"/>
<circle cx="661.2" cy="137.9" r="2.55"/>
<circle cx="706.2" cy="137.9" r="2.55"/>
<circle cx="116.6" cy="155.4" r="2.55"/>
<circle cx="123.1" cy="155.4" r="2.55"/>
<circle cx="214.4" cy="155.4" r="2.55"/>
<circle cx="240.4" cy="155.4" r="2.55"/>
<circle cx="319.8" cy="155.4" r="2.55"/>
<circle cx="329.6" cy="155.4" r="2.55"/>
<circle cx="334.6" cy="155.4" r="2.55"/>
<circle cx="336.5" cy="155.4" r="2.55"/>
<circle cx="417.5" cy="155.4" r="2.55"/>
<circle cx="421.6" cy="155.4" r="2.55"/>
<circle cx="496.5" cy="155.4" r="2.55"/>
<circle cx="643.4" cy="155.4" r="2.55"/>
<circle cx="645.6" cy="155.4" r="2.55"/>
<circle cx="651.2" cy="155.4" r="2.55"/>
<circle cx="678.4" cy="155.4" r="2.55"/>
<circle cx="694.4" cy="155.4" r="2.55"/>
<circle cx="135.4" cy="172.9" r="2.55"/>
<circle cx="147.1" cy="172.9" r="2.55"/>
<circle cx="407.8" cy="172.9" r="2.55"/>
<circle cx="411.2" cy="172.9" r="2.55"/>
<circle cx="415.0" cy="172.9" r="2.55"/>
<circle cx="443.5" cy="172.9" r="2.55"/>
<circle cx="487.2" cy="172.9" r="2.55"/>
<circle cx="494.0" cy="172.9" r="2.55"/>
<circle cx="503.5" cy="172.9" r="2.55"/>
<circle cx="514.4" cy="172.9" r="2.55"/>
<circle cx="567.8" cy="172.9" r="2.55"/>
<circle cx="605.9" cy="172.9" r="2.55"/>
<circle cx="619.4" cy="172.9" r="2.55"/>
<circle cx="644.8" cy="172.9" r="2.55"/>
<circle cx="648.8" cy="172.9" r="2.55"/>
<circle cx="680.9" cy="172.9" r="2.55"/>
<circle cx="688.5" cy="172.9" r="2.55"/>
<circle cx="693.5" cy="172.9" r="2.55"/>
<circle cx="413.8" cy="190.4" r="2.55"/>
<circle cx="416.2" cy="190.4" r="2.55"/>
<circle cx="419.4" cy="190.4" r="2.55"/>
<circle cx="427.2" cy="190.4" r="2.55"/>
<circle cx="429.8" cy="190.4" r="2.55"/>
<circle cx="432.2" cy="190.4" r="2.55"/>
<circle cx="485.9" cy="190.4" r="2.55"/>
<circle cx="490.0" cy="190.4" r="2.55"/>
<circle cx="493.1" cy="190.4" r="2.55"/>
<circle cx="495.6" cy="190.4" r="2.55"/>
<circle cx="511.9" cy="190.4" r="2.55"/>
<circle cx="561.9" cy="190.4" r="2.55"/>
<circle cx="564.0" cy="190.4" r="2.55"/>
<circle cx="568.8" cy="190.4" r="2.55"/>
<circle cx="571.2" cy="190.4" r="2.55"/>
<circle cx="574.0" cy="190.4" r="2.55"/>
<circle cx="591.2" cy="190.4" r="2.55"/>
<circle cx="594.4" cy="190.4" r="2.55"/>
<circle cx="597.5" cy="190.4" r="2.55"/>
<circle cx="600.6" cy="190.4" r="2.55"/>
<circle cx="603.8" cy="190.4" r="2.55"/>
<circle cx="610.0" cy="190.4" r="2.55"/>
<circle cx="612.5" cy="190.4" r="2.55"/>
<circle cx="615.6" cy="190.4" r="2.55"/>
<circle cx="618.8" cy="190.4" r="2.55"/>
<circle cx="645.9" cy="190.4" r="2.55"/>
<circle cx="655.6" cy="190.4" r="2.55"/>
<circle cx="682.5" cy="190.4" r="2.55"/>
<circle cx="685.6" cy="190.4" r="2.55"/>
<circle cx="688.8" cy="190.4" r="2.55"/>
<circle cx="691.9" cy="190.4" r="2.55"/>
<circle cx="695.0" cy="190.4" r="2.55"/>
<circle cx="704.8" cy="190.4" r="2.55"/>
<circle cx="397.5" cy="207.9" r="2.55"/>
<circle cx="413.1" cy="207.9" r="2.55"/>
<circle cx="416.9" cy="207.9" r="2.55"/>
<circle cx="420.6" cy="207.9" r="2.55"/>
<circle cx="426.0" cy="207.9" r="2.55"/>
<circle cx="447.9" cy="207.9" r="2.55"/>
<circle cx="482.5" cy="207.9" r="2.55"/>
<circle cx="485.0" cy="207.9" r="2.55"/>
<circle cx="488.5" cy="207.9" r="2.55"/>
<circle cx="491.9" cy="207.9" r="2.55"/>
<circle cx="500.6" cy="207.9" r="2.55"/>
<circle cx="502.5" cy="207.9" r="2.55"/>
<circle cx="506.9" cy="207.9" r="2.55"/>
<circle cx="517.8" cy="207.9" r="2.55"/>
<circle cx="523.8" cy="207.9" r="2.55"/>
<circle cx="526.2" cy="207.9" r="2.55"/>
<circle cx="564.8" cy="207.9" r="2.55"/>
<circle cx="571.9" cy="207.9" r="2.55"/>
<circle cx="575.0" cy="207.9" r="2.55"/>
<circle cx="583.1" cy="207.9" r="2.55"/>
<circle cx="585.6" cy="207.9" r="2.55"/>
<circle cx="588.1" cy="207.9" r="2.55"/>
<circle cx="591.2" cy="207.9" r="2.55"/>
<circle cx="601.9" cy="207.9" r="2.55"/>
<circle cx="604.4" cy="207.9" r="2.55"/>
<circle cx="606.9" cy="207.9" r="2.55"/>
<circle cx="614.0" cy="207.9" r="2.55"/>
<circle cx="657.1" cy="207.9" r="2.55"/>
<circle cx="671.5" cy="207.9" r="2.55"/>
<circle cx="676.9" cy="207.9" r="2.55"/>
<circle cx="679.0" cy="207.9" r="2.55"/>
<circle cx="684.4" cy="207.9" r="2.55"/>
<circle cx="686.9" cy="207.9" r="2.55"/>
<circle cx="689.4" cy="207.9" r="2.55"/>
<circle cx="693.8" cy="207.9" r="2.55"/>
<circle cx="696.2" cy="207.9" r="2.55"/>
<circle cx="700.9" cy="207.9" r="2.55"/>
<circle cx="358.1" cy="225.4" r="2.55"/>
<circle cx="409.1" cy="225.4" r="2.55"/>
<circle cx="418.8" cy="225.4" r="2.55"/>
<circle cx="421.9" cy="225.4" r="2.55"/>
<circle cx="424.4" cy="225.4" r="2.55"/>
<circle cx="433.8" cy="225.4" r="2.55"/>
<circle cx="489.4" cy="225.4" r="2.55"/>
<circle cx="497.9" cy="225.4" r="2.55"/>
<circle cx="569.0" cy="225.4" r="2.55"/>
<circle cx="577.5" cy="225.4" r="2.55"/>
<circle cx="590.0" cy="225.4" r="2.55"/>
<circle cx="593.1" cy="225.4" r="2.55"/>
<circle cx="596.2" cy="225.4" r="2.55"/>
<circle cx="598.8" cy="225.4" r="2.55"/>
<circle cx="601.5" cy="225.4" r="2.55"/>
<circle cx="615.6" cy="225.4" r="2.55"/>
<circle cx="651.6" cy="225.4" r="2.55"/>
<circle cx="659.6" cy="225.4" r="2.55"/>
<circle cx="674.4" cy="225.4" r="2.55"/>
<circle cx="676.9" cy="225.4" r="2.55"/>
<circle cx="679.6" cy="225.4" r="2.55"/>
<circle cx="681.9" cy="225.4" r="2.55"/>
<circle cx="690.6" cy="225.4" r="2.55"/>
<circle cx="693.8" cy="225.4" r="2.55"/>
<circle cx="696.9" cy="225.4" r="2.55"/>
<circle cx="699.4" cy="225.4" r="2.55"/>
<circle cx="231.2" cy="242.9" r="2.55"/>
<circle cx="357.4" cy="242.9" r="2.55"/>
<circle cx="408.5" cy="242.9" r="2.55"/>
<circle cx="420.2" cy="242.9" r="2.55"/>
<circle cx="423.5" cy="242.9" r="2.55"/>
<circle cx="503.1" cy="242.9" r="2.55"/>
<circle cx="546.5" cy="242.9" r="2.55"/>
<circle cx="596.9" cy="242.9" r="2.55"/>
<circle cx="611.9" cy="242.9" r="2.55"/>
<circle cx="616.2" cy="242.9" r="2.55"/>
<circle cx="668.1" cy="242.9" r="2.55"/>
<circle cx="670.0" cy="242.9" r="2.55"/>
<circle cx="685.0" cy="242.9" r="2.55"/>
<circle cx="687.2" cy="242.9" r="2.55"/>
<circle cx="703.8" cy="242.9" r="2.55"/>
<circle cx="490.5" cy="260.4" r="2.55"/>
<circle cx="491.5" cy="260.4" r="2.55"/>
<circle cx="512.8" cy="260.4" r="2.55"/>
<circle cx="518.5" cy="260.4" r="2.55"/>
<circle cx="578.1" cy="260.4" r="2.55"/>
<circle cx="586.5" cy="260.4" r="2.55"/>
<circle cx="697.1" cy="260.4" r="2.55"/>
<circle cx="508.8" cy="277.9" r="2.55"/>
<circle cx="544.0" cy="277.9" r="2.55"/>
<circle cx="545.6" cy="277.9" r="2.55"/>
<circle cx="700.4" cy="277.9" r="2.55"/>
<circle cx="710.6" cy="277.9" r="2.55"/>
<circle cx="202.2" cy="295.4" r="2.55"/>
<circle cx="204.8" cy="295.4" r="2.55"/>
<circle cx="504.8" cy="295.4" r="2.55"/>
<circle cx="506.5" cy="295.4" r="2.55"/>
<circle cx="545.2" cy="295.4" r="2.55"/>
<circle cx="593.5" cy="295.4" r="2.55"/>
<circle cx="604.6" cy="295.4" r="2.55"/>
<circle cx="611.0" cy="295.4" r="2.55"/>
<circle cx="622.9" cy="295.4" r="2.55"/>
<circle cx="680.4" cy="295.4" r="2.55"/>
<circle cx="708.8" cy="295.4" r="2.55"/>
<circle cx="138.8" cy="312.9" r="2.55"/>
<circle cx="160.6" cy="312.9" r="2.55"/>
<circle cx="180.0" cy="312.9" r="2.55"/>
<circle cx="205.6" cy="312.9" r="2.55"/>
<circle cx="206.6" cy="312.9" r="2.55"/>
<circle cx="344.4" cy="312.9" r="2.55"/>
<circle cx="367.1" cy="312.9" r="2.55"/>
<circle cx="431.0" cy="312.9" r="2.55"/>
<circle cx="510.6" cy="312.9" r="2.55"/>
<circle cx="582.8" cy="312.9" r="2.55"/>
<circle cx="600.0" cy="312.9" r="2.55"/>
<circle cx="699.8" cy="312.9" r="2.55"/>
<circle cx="159.4" cy="330.4" r="2.55"/>
<circle cx="212.5" cy="330.4" r="2.55"/>
<circle cx="242.2" cy="330.4" r="2.55"/>
<circle cx="324.4" cy="330.4" r="2.55"/>
<circle cx="425.4" cy="330.4" r="2.55"/>
<circle cx="504.4" cy="330.4" r="2.55"/>
<circle cx="522.5" cy="330.4" r="2.55"/>
<circle cx="667.1" cy="330.4" r="2.55"/>
</g>
<text class="ttl" x="384.2" y="20.1" textLength="33.6" lengthAdjust="spacingAndGlyphs">Wind</text>
<text class="lbl" x="68.7" y="53.7" text-anchor="end">40</text>
<text class="lbl" x="70.6" y="123.7" text-anchor="end">30</text>
<text class="lbl" x="70.6" y="193.7" text-anchor="end">20</text>
<text class="lbl" x="69.5" y="263.7" text-anchor="end">10</text>
<text class="lbl" x="69.8" y="333.7" text-anchor="end">0</text>
<text class="lbl" x="730.2" y="53.7">360</text>
<text class="lbl" x="730.2" y="123.7">270</text>
<text class="lbl" x="730.2" y="193.7">180</text>
<text class="lbl" x="730.2" y="263.7">90</text>
<text class="lbl" x="730.2" y="333.7">0</text>
<text class="lbl" x="127.0" y="348" text-anchor="middle" textLength="52.7" lengthAdjust="spacing">18.08.2015</text>
<text class="lbl" x="220.4" y="348" text-anchor="middle" textLength="52.7" lengthAdjust="spacing">19.08.2015</text>
<text class="lbl" x="313.8" y="348" text-anchor="middle" textLength="52.7" lengthAdjust="spacing">20.08.2015</text>
<text class="lbl" x="407.2" y="348" text-anchor="middle" textLength="52.7" lengthAdjust="spacing">20.08.2015</text>
<text class="lbl" x="500.6" y="348" text-anchor="middle" textLength="52.7" lengthAdjust="spacing">21.08.2015</text>
<text class="lbl" x="594.0" y="348" text-anchor="middle" textLength="52.7" lengthAdjust="spacing">22.08.2015</text>
<circle cx="49.5" cy="119.3" r="4.5" fill="#FFBF00"/>
<text class="lbl" transform="translate(48.8,259.4) rotate(-90)"><tspan x="0" textLength="100.2" lengthAdjust="spacing">Windgeschwindigkeit</tspan> <tspan x="103.6" textLength="28" lengthAdjust="spacingAndGlyphs">(km/h)</tspan></text>
<circle cx="755.5" cy="146.5" r="4.5" fill="#FF8A06"/>
<text class="lbl" transform="translate(760.6,231.2) rotate(-90)"><tspan x="0" textLength="64.2" lengthAdjust="spacing">Windrichtung</tspan> <tspan x="66" textLength="8.4" lengthAdjust="spacingAndGlyphs">(°)</tspan></text>
</svg>
</body>
</html>
